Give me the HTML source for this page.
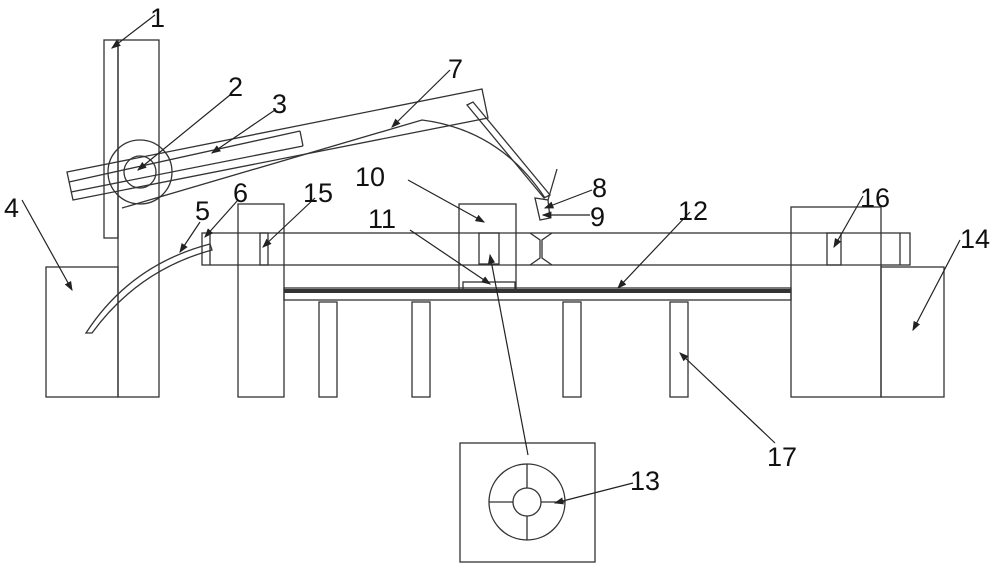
<!DOCTYPE html>
<html><head><style>body{margin:0;background:#fff}svg{display:block}text{font-family:"Liberation Sans",sans-serif;font-size:27px;fill:#111}</style></head><body>
<svg width="1000" height="569" viewBox="0 0 1000 569" xmlns="http://www.w3.org/2000/svg">
<defs><marker id="a" markerWidth="8" markerHeight="6" refX="7" refY="3" orient="auto"><path d="M0,0 L8,3 L0,6z" fill="#222"/></marker></defs>
<g fill="none" stroke="#333" stroke-width="1.3">
<rect x="104" y="40" width="14" height="198"/>
<rect x="118" y="40" width="41" height="357"/>
<rect x="46" y="267" width="72" height="130"/>
<polygon points="67,172 482,89 488,118 73,200"/>
<line x1="69" y1="182" x2="300" y2="131"/>
<line x1="71" y1="192" x2="303" y2="146"/>
<line x1="300" y1="131" x2="303" y2="146"/>
<path d="M122,208 L422,120 Q500,130 545,198"/>
<circle cx="140" cy="172" r="32"/>
<circle cx="140" cy="172" r="16"/>
<polygon points="467,105 473,102 550,195 544,198"/>
<line x1="557" y1="169" x2="548" y2="200"/>
<path d="M535,198 L548,200 L550,218 L540,220 Z"/>
<path d="M86,333 Q130,265 210,244 L212,250 Q138,270 92,333 Z"/>
<rect x="202" y="233" width="708" height="32"/>
<line x1="210" y1="233" x2="210" y2="265"/>
<line x1="900" y1="233" x2="900" y2="265"/>
<rect x="238" y="204" width="46" height="193" fill="#fff"/>
<line x1="238" y1="233" x2="284" y2="233"/><line x1="238" y1="265" x2="284" y2="265"/>
<rect x="260" y="233" width="8" height="32"/>
<rect x="459" y="204" width="57" height="88" fill="#fff"/>
<line x1="459" y1="233" x2="516" y2="233"/><line x1="459" y1="265" x2="516" y2="265"/>
<rect x="479" y="233" width="20" height="31"/>
<rect x="463" y="282" width="52" height="10"/>
<path d="M530,233 L540,240 L540,258 L530,265 M552,233 L542,240 L542,258 L552,265"/>
<rect x="791" y="207" width="90" height="190" fill="#fff"/>
<line x1="791" y1="233" x2="881" y2="233"/><line x1="791" y1="265" x2="881" y2="265"/>
<rect x="827" y="233" width="14" height="32"/>
<rect x="881" y="267" width="63" height="130"/>
<rect x="284" y="288" width="507" height="12"/>
<rect x="319" y="302" width="18" height="95"/>
<rect x="412" y="302" width="18" height="95"/>
<rect x="563" y="302" width="18" height="95"/>
<rect x="670" y="302" width="18" height="95"/>
<rect x="460" y="443" width="135" height="119"/>
<circle cx="527" cy="502" r="38"/>
<circle cx="527" cy="502" r="14"/>
<path d="M527,464 V488 M527,516 V540 M489,502 H513 M541,502 H565"/>
</g>
<rect x="284" y="289" width="507" height="4" fill="#333"/>
<g stroke="#222" stroke-width="1.2" marker-end="url(#a)">
<line x1="155" y1="15" x2="112" y2="48"/>
<line x1="230" y1="95" x2="138" y2="170"/>
<line x1="275" y1="110" x2="212" y2="153"/>
<line x1="22" y1="200" x2="72" y2="290"/>
<line x1="200" y1="222" x2="180" y2="252"/>
<line x1="238" y1="200" x2="205" y2="237"/>
<line x1="450" y1="70" x2="392" y2="127"/>
<line x1="592" y1="190" x2="545" y2="208"/>
<line x1="590" y1="215" x2="543" y2="215"/>
<line x1="408" y1="180" x2="484" y2="222"/>
<line x1="410" y1="230" x2="490" y2="284"/>
<line x1="690" y1="212" x2="618" y2="288"/>
<line x1="633" y1="483" x2="555" y2="503"/>
<line x1="960" y1="240" x2="913" y2="330"/>
<line x1="315" y1="198" x2="263" y2="247"/>
<line x1="863" y1="196" x2="834" y2="247"/>
<line x1="775" y1="443" x2="680" y2="353"/>
<line x1="528" y1="455" x2="490" y2="255"/>
</g>
<text x="150" y="27">1</text><text x="228" y="96">2</text><text x="272" y="113">3</text>
<text x="4" y="217">4</text><text x="195" y="220">5</text><text x="233" y="202">6</text>
<text x="448" y="78">7</text><text x="592" y="197">8</text><text x="590" y="226">9</text>
<text x="355" y="186">10</text><text x="368" y="228">11</text><text x="678" y="220">12</text>
<text x="630" y="490">13</text><text x="960" y="248">14</text><text x="303" y="202">15</text>
<text x="860" y="207">16</text><text x="767" y="466">17</text>
</svg>
</body></html>
